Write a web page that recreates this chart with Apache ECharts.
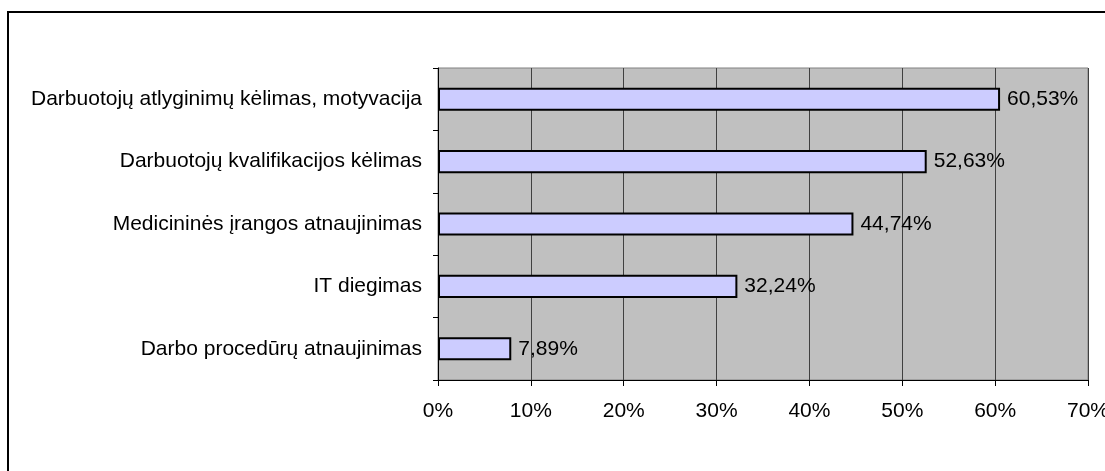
<!DOCTYPE html>
<html>
<head>
<meta charset="utf-8">
<script src="https://cdn.jsdelivr.net/npm/echarts@6/dist/echarts.min.js"></script>
<style>
  html, body { margin: 0; padding: 0; background: #fff; }
  #main { width: 1105px; height: 471px; }
</style>
</head>
<body>
<div id="main"></div>
<script>
// chart data
const categories = [
  'Darbuotojų atlyginimų kėlimas, motyvacija',
  'Darbuotojų kvalifikacijos kėlimas',
  'Medicininės įrangos atnaujinimas',
  'IT diegimas',
  'Darbo procedūrų atnaujinimas'
];
const values = [60.53, 52.63, 44.74, 32.24, 7.89];
const tickLabels = ['0%', '10%', '20%', '30%', '40%', '50%', '60%', '70%'];

const font = "'Liberation Sans', Arial, sans-serif";

const chart = echarts.init(document.getElementById('main'));

chart.setOption({
  animation: false,
  backgroundColor: '#fff',
  graphic: [{
    type: 'rect',
    shape: {x: 8, y: 12, width: 1200, height: 600},
    style: {fill: 'none', stroke: '#000', lineWidth: 2}
  }],
  grid: {
    left: 438,
    right: 17,
    top: 68,
    bottom: 91,
    outerBoundsMode: 'none',
    containLabel: false,
    show: true,
    backgroundColor: '#c0c0c0',
    borderColor: '#808080',
    borderWidth: 1
  },
  xAxis: {
    type: 'value',
    min: 0,
    max: 70,
    interval: 10,
    axisLine: {show: true, lineStyle: {color: '#000', width: 1}},
    axisTick: {show: true, length: 6, lineStyle: {color: '#000'}},
    splitLine: {show: true, lineStyle: {color: '#404040', width: 1}},
    axisLabel: {
      color: '#000',
      fontFamily: font,
      fontSize: 21,
      margin: 21,
      hideOverlap: false,
      formatter: (v) => tickLabels[Math.round(v / 10)]
    }
  },
  yAxis: {
    type: 'category',
    inverse: true,
    data: categories,
    axisLine: {show: true, lineStyle: {color: '#000', width: 1}},
    axisTick: {show: true, length: 5, alignWithLabel: false, lineStyle: {color: '#000'}},
    axisLabel: {
      color: '#000',
      fontFamily: font,
      fontSize: 21,
      margin: 16
    }
  },
  series: [{
    type: 'bar',
    data: values,
    barCategoryGap: '63%',
    itemStyle: {color: '#ccccff', borderColor: '#000', borderWidth: 2},
    label: {
      show: true,
      position: 'right',
      distance: 7,
      color: '#000',
      fontFamily: font,
      fontSize: 21,
      formatter: (p) => p.value.toFixed(2).replace('.', ',') + '%'
    }
  }]
});
</script>
</body>
</html>
